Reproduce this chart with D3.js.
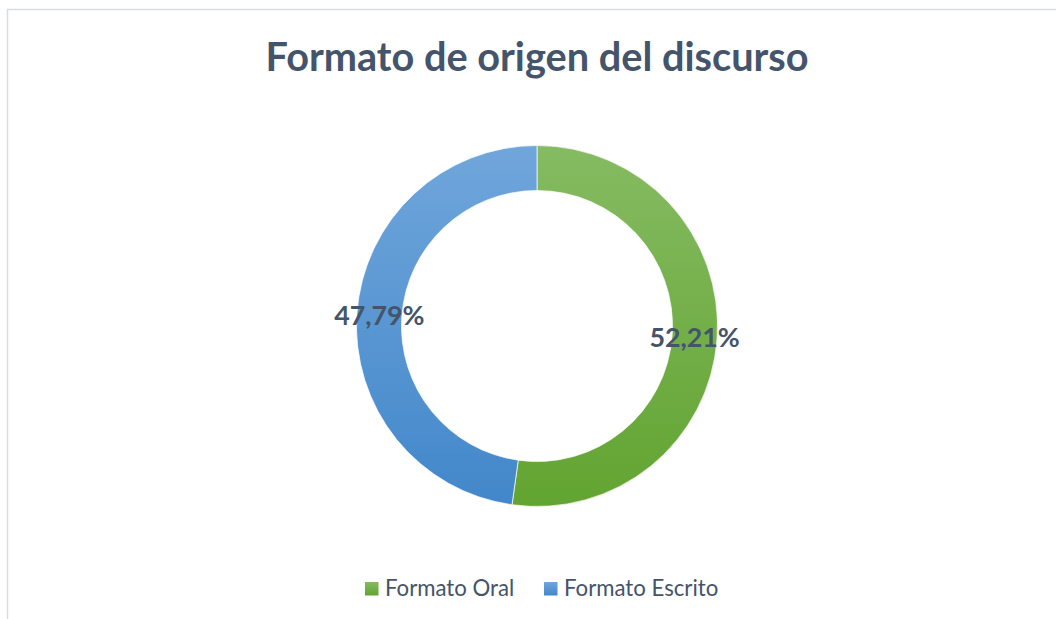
<!DOCTYPE html>
<html>
<head>
<meta charset="utf-8">
<script src="https://cdn.jsdelivr.net/npm/d3@7"></script>
<style>
  html, body { margin: 0; padding: 0; background: #fff; }
  svg { display: block; }
</style>
</head>
<body>
<svg id="chart" width="1056" height="619"></svg>
<script>
const title = "Formato de origen del discurso";
const categories = ["Formato Oral", "Formato Escrito"];
const values = [52.21, 47.79];
const labels = ["52,21%", "47,79%"];
const colorsTop = ["#85BB62", "#70A6DB"];
const colorsBottom = ["#62A431", "#4287CA"];

const W = 1056, H = 619;
const cx = 537, cy = 326, outerR = 180.5, innerR = 135.5;
const svg = d3.select("#chart");

// chart border
svg.append("rect")
  .attr("x", 7.5).attr("y", 9.5)
  .attr("width", W + 10).attr("height", H + 10)
  .attr("fill", "#fff")
  .attr("stroke", "#D9DDE3").attr("stroke-width", 1.5);

const defs = svg.append("defs");
categories.forEach((c, i) => {
  const g = defs.append("linearGradient")
    .attr("id", "grad" + i)
    .attr("gradientUnits", "userSpaceOnUse")
    .attr("x1", 0).attr("x2", 0)
    .attr("y1", -outerR).attr("y2", outerR);
  g.append("stop").attr("offset", "0%").attr("stop-color", colorsTop[i]);
  g.append("stop").attr("offset", "100%").attr("stop-color", colorsBottom[i]);
  const lgr = defs.append("linearGradient").attr("id", "lgrad" + i)
    .attr("x1", 0).attr("x2", 0).attr("y1", 0).attr("y2", 1);
  lgr.append("stop").attr("offset", "0%").attr("stop-color", colorsTop[i]);
  lgr.append("stop").attr("offset", "100%").attr("stop-color", colorsBottom[i]);
});

svg.append("text")
  .attr("x", 537).attr("y", 71)
  .attr("text-anchor", "middle")
  .attr("font-family", "Lato, 'Open Sans', sans-serif")
  .attr("font-weight", "bold")
  .attr("font-size", 39.7)
  .attr("fill", "#44546A")
  .text(title);

const pie = d3.pie().sort(null).value(d => d);
const arcs = pie(values);
const arc = d3.arc().innerRadius(innerR).outerRadius(outerR);
const labelArc = d3.arc().innerRadius((innerR + outerR) / 2).outerRadius((innerR + outerR) / 2);

const g = svg.append("g").attr("transform", `translate(${cx},${cy})`);
g.selectAll("path.slice").data(arcs).join("path")
  .attr("class", "slice")
  .attr("d", arc)
  .attr("fill", (d, i) => `url(#grad${i})`)
  .attr("stroke", "#fff").attr("stroke-width", 0.7);

g.selectAll("text.lbl").data(arcs).join("text")
  .attr("class", "lbl")
  .attr("transform", d => { const p = labelArc.centroid(d); return `translate(${p[0]},${p[1]})`; })
  .attr("text-anchor", "middle")
  .attr("dy", "0.36em")
  .attr("font-family", "Lato, 'Open Sans', sans-serif")
  .attr("font-weight", "bold")
  .attr("font-size", 26.8)
  .attr("fill", "#44546A")
  .text((d, i) => labels[i]);

// legend
const legendX = [365, 544];
const lg = svg.append("g");
categories.forEach((c, i) => {
  lg.append("rect")
    .attr("x", legendX[i]).attr("y", 582)
    .attr("width", 13.5).attr("height", 13.5)
    .attr("fill", `url(#lgrad${i})`);
  lg.append("text")
    .attr("x", legendX[i] + 20).attr("y", 596)
    .attr("font-family", "Lato, 'Open Sans', sans-serif")
    .attr("font-size", 22.2)
    .attr("fill", "#44546A")
    .text(c);
});
</script>
</body>
</html>
